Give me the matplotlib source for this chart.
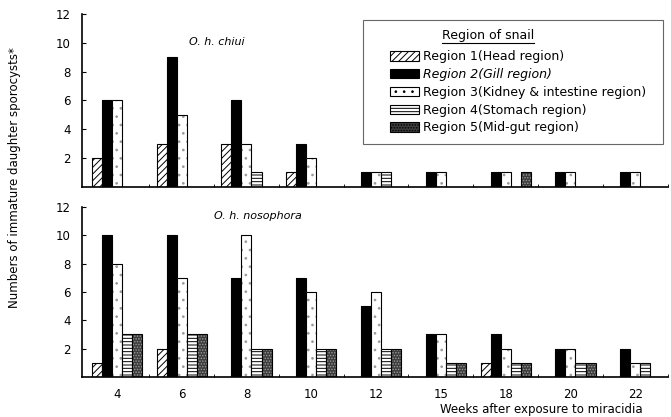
import numpy as np
import matplotlib.pyplot as plt
from matplotlib.patches import Patch, Rectangle
from matplotlib.lines import Line2D

weeks = ["4", "6", "8", "10", "12", "15", "18", "20", "22"]
regions = ["Region 1(Head region)", "Region 2(Gill region)",
           "Region 3(Kidney & intestine region)", "Region 4(Stomach region)",
           "Region 5(Mid-gut region)"]

# O. h. chiui, one list per region (values per week)
chiui_r1 = [2, 3, 3, 1, 0, 0, 0, 0, 0]
chiui_r2 = [6, 9, 6, 3, 1, 1, 1, 1, 1]
chiui_r3 = [6, 5, 3, 2, 1, 1, 1, 1, 1]
chiui_r4 = [0, 0, 1, 0, 1, 0, 0, 0, 0]
chiui_r5 = [0, 0, 0, 0, 0, 0, 1, 0, 0]

# O. h. nosophora
noso_r1 = [1, 2, 0, 0, 0, 0, 1, 0, 0]
noso_r2 = [10, 10, 7, 7, 5, 3, 3, 2, 2]
noso_r3 = [8, 7, 10, 6, 6, 3, 2, 2, 1]
noso_r4 = [3, 3, 2, 2, 2, 1, 1, 1, 1]
noso_r5 = [3, 3, 2, 2, 2, 1, 1, 1, 0]

# face colour, hatch, hatch colour
styles = [
    ("white", "/////", "black"),
    ("black", None, "black"),
    ("white", "..", "#9a9a9a"),
    ("white", "-----", "black"),
    ("#3c3c3c", "......", "#9a9a9a"),
]

plt.rcParams['font.family'] = 'DejaVu Sans'
plt.rcParams['hatch.linewidth'] = 0.7

fig = plt.figure(figsize=(6.71, 4.17), dpi=100)
ax1 = fig.add_axes([0.122, 0.552, 0.874, 0.414])
ax2 = fig.add_axes([0.122, 0.096, 0.874, 0.408])

x = np.arange(len(weeks))
w = 0.155


def draw(ax, data):
    for k, vals in enumerate(data):
        fc, h, hc = styles[k]
        pos = x + (k - 2) * w
        # fill + hatch, then black outline on top
        ax.bar(pos, vals, width=w, facecolor=fc, hatch=h, edgecolor=hc,
               linewidth=0)
        ax.bar(pos, vals, width=w, facecolor="none", edgecolor="black",
               linewidth=0.8)
    ax.set_xlim(-0.54, 8.51)
    ax.set_ylim(0, 12)
    ax.set_yticks([2, 4, 6, 8, 10, 12])
    ax.tick_params(axis="y", direction="in", length=3, labelsize=8.5, pad=8)
    ax.set_xticks(x + 0.5, minor=True)
    ax.set_xticks(x)
    ax.tick_params(axis="x", which="minor", direction="in", length=2)
    ax.tick_params(axis="x", which="major", length=0, labelsize=8.5, pad=8)
    for s in ["top", "right"]:
        ax.spines[s].set_visible(False)
    ax.spines["left"].set_linewidth(1.2)
    ax.spines["bottom"].set_linewidth(1.2)


draw(ax1, [chiui_r1, chiui_r2, chiui_r3, chiui_r4, chiui_r5])
draw(ax2, [noso_r1, noso_r2, noso_r3, noso_r4, noso_r5])
ax1.set_xticklabels([])
ax2.set_xticklabels(weeks)

ax1.text(0.23, 0.82, "O. h. chiui", transform=ax1.transAxes, style="italic",
         fontsize=8, ha="center")
ax2.text(0.30, 0.93, "O. h. nosophora", transform=ax2.transAxes, style="italic",
         fontsize=8, ha="center")

# legend: frame and title drawn by hand, entries by legend()
ax1.add_patch(Rectangle((0.48, 0.249), 0.511, 0.716, transform=ax1.transAxes,
                        facecolor="white", edgecolor="#666666", linewidth=0.8,
                        zorder=4, clip_on=False))
title = ax1.text(0.693, 0.879, "Region of snail", transform=ax1.transAxes,
                 ha="center", va="center", fontsize=9, zorder=5)

handles = []
for fc, h, hc in styles:
    handles.append(Patch(facecolor=fc, hatch=h, edgecolor="black", linewidth=0.8))
leg = ax1.legend(handles, regions, loc="upper left",
                 bbox_to_anchor=(0.526, 0.79), frameon=False,
                 fontsize=9, handlelength=2.3, handleheight=0.75,
                 handletextpad=0.3, labelspacing=0.38,
                 borderaxespad=0, borderpad=0)
leg.set_zorder(6)
leg.texts[1].set_style("italic")

# underline the legend title
fig.canvas.draw()
bb = title.get_window_extent().transformed(fig.transFigure.inverted())
fig.add_artist(Line2D([bb.x0, bb.x1], [bb.y0 - 0.004, bb.y0 - 0.004],
                      transform=fig.transFigure, color="black", linewidth=0.8))

fig.text(0.022, 0.573, "Numbers of immature daughter sporocysts*",
         rotation=90, va="center", ha="center", fontsize=8.5)
fig.text(0.957, 0.01, "Weeks after exposure to miracidia", ha="right",
         fontsize=8.5)

fig.savefig("out.png", dpi=100)
